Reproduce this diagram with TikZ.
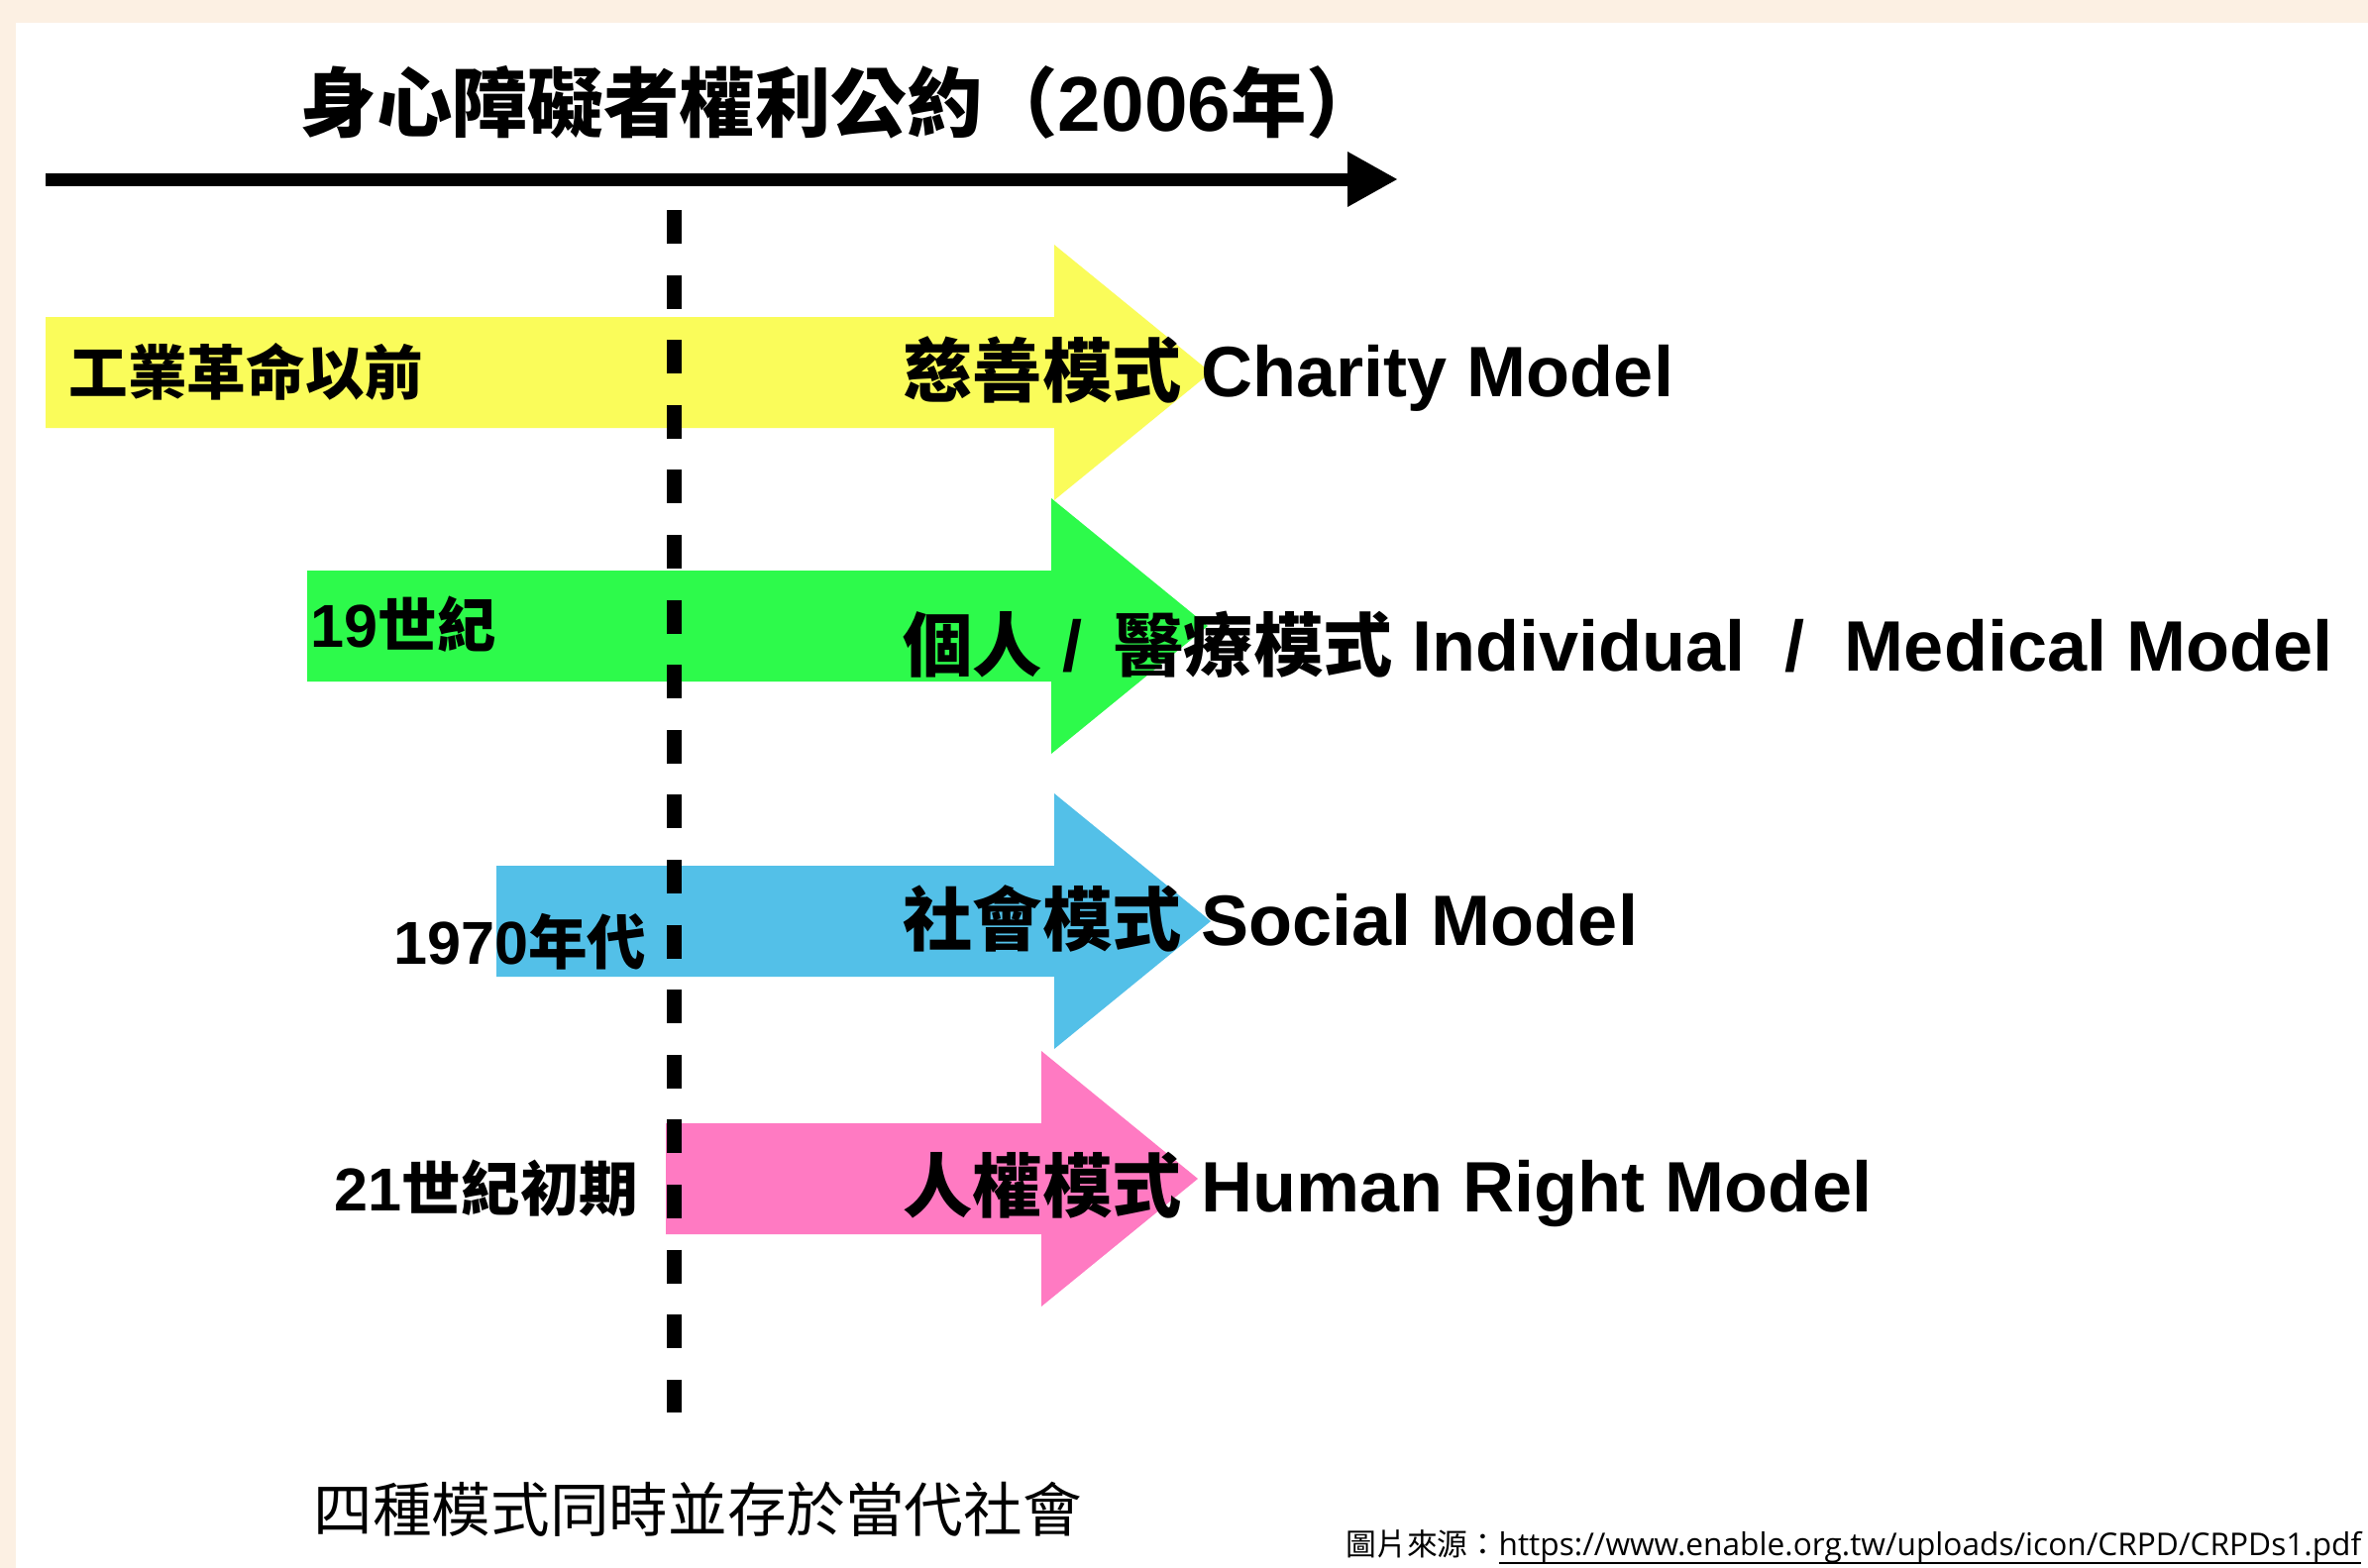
\documentclass[tikz,border=0pt]{standalone}
\usepackage{fontspec}
\setmainfont{Liberation Sans}
\newfontfamily\cjk[Scale=0.975]{Noto Sans CJK TC}
\newfontfamily\linkfont{Open Sans}
\usetikzlibrary{arrows.meta}
\definecolor{cream}{HTML}{FCF0E3}
\definecolor{charityc}{HTML}{FAFC5A}
\definecolor{medicalc}{HTML}{2DFA4B}
\definecolor{socialc}{HTML}{53C0E8}
\definecolor{rightsc}{HTML}{FF7AC2}
\newcommand\linkline[1]{\setbox0\hbox{#1}\rlap{\rule[-2.6pt]{\wd0}{0.6pt}}\box0}
\begin{document}
\begin{tikzpicture}[x=0.1mm,y=-0.1mm,
  era/.style={font=\bfseries\fontsize{17.4pt}{20pt}\selectfont,inner sep=0pt},
  model/.style={font=\bfseries\fontsize{20.5pt}{24pt}\selectfont,inner sep=0pt,anchor=west},
  timeline/.style={line width=1.3mm,-{Triangle[length=5.1mm,width=5.2mm]}},
  guide/.style={line width=1.5mm,dash pattern=on 3.4mm off 3.16mm}]
\useasboundingbox (0,0) rectangle (2390,1583);
\fill[cream] (0,0) rectangle (2390,1583);
\fill[white] (16,23) rectangle (2390,1583);

\foreach \col/\xl/\yc/\xb in {charityc/46/376/1064,medicalc/310/632/1061,socialc/501/930/1064,rightsc/672/1190/1051}
  \fill[\col] (\xl,\yc-56) -- (\xb,\yc-56) -- (\xb,\yc-129) -- (\xb+158,\yc)
    -- (\xb,\yc+129) -- (\xb,\yc+56) -- (\xl,\yc+56) -- cycle;

\coordinate (d0) at (680,212);
\coordinate (d1) at (680,1426);
\draw[guide] (d0) -- (d1);
\coordinate (t0) at (46,181);
\coordinate (t1) at (1411,181);
\draw[timeline] (t0) -- (t1);

\node[anchor=west,inner sep=0pt,font=\bfseries\fontsize{22.3pt}{26pt}\selectfont] (title) at (303,103) {{\cjk 身心障礙者權利公約（}2006{\cjk 年）}};

\node[era,anchor=west] (pre) at (69,375) {\cjk 工業革命以前};
\node[era,anchor=west] (c19) at (313,630) {19{\cjk 世紀}};
\node[era,anchor=east] (y1970) at (653,951) {1970{\cjk 年代}};
\node[era,anchor=east] (c21) at (645,1200) {21{\cjk 世紀初期}};

\node[model] (charity) at (911,378) {{\cjk 慈善模式} Charity Model};
\node[model] (medical) at (911,651) {{\cjk 個人} /\hspace{3.5pt} {\cjk 醫療模式} Individual\ \ /\ \ Medical Model};
\node[model] (social) at (911,927) {{\cjk 社會模式} Social Model};
\node[model] (rights) at (911,1201) {{\cjk 人權模式} Human Right Model};

\node[anchor=west,inner sep=0pt,font=\fontsize{17.4pt}{20pt}\selectfont] (note) at (316,1524) {\cjk 四種模式同時並存於當代社會};
\node[anchor=base east,inner sep=0pt,font=\fontsize{9pt}{11pt}\selectfont] (source) at (2384,1570) {{\cjk 圖片來源：}\linkline{\linkfont https://www.enable.org.tw/uploads/icon/CRPD/CRPDs1.pdf}};
\end{tikzpicture}
\end{document}
